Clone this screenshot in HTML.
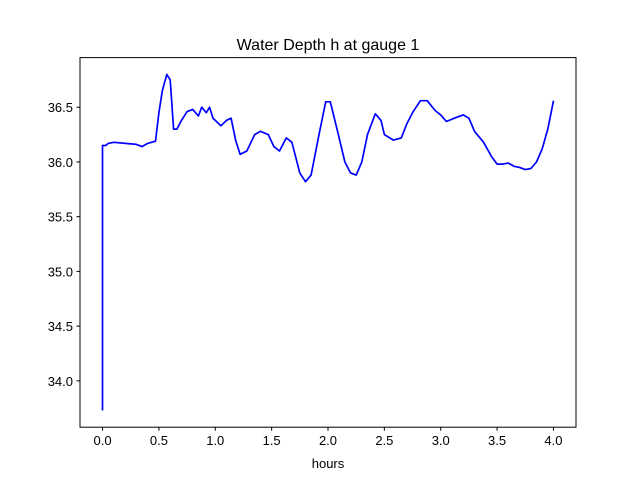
<!DOCTYPE html>
<html><head><meta charset="utf-8"><style>
body{margin:0;background:#fff;font-family:"Liberation Sans","DejaVu Sans",sans-serif;}
</style></head><body>
<svg width="640" height="480" xmlns="http://www.w3.org/2000/svg">
<rect width="640" height="480" fill="#fff"/>
<text x="328" y="50" text-anchor="middle" font-size="16">Water Depth h at gauge 1</text>
<g id="ticks" font-size="13" fill="#000"></g>
<polyline id="line" fill="none" stroke="#0000ff" stroke-width="1.7" stroke-linejoin="round"/>
<rect x="80" y="57.6" width="496" height="369.6" fill="none" stroke="#000" stroke-width="1"/>
<text x="328" y="468" text-anchor="middle" font-size="13">hours</text>
<script>
const hours=[0,0,0.03,0.05,0.1,0.3,0.35,0.4,0.47,0.5,0.53,0.57,0.6,0.63,0.66,0.7,0.75,0.8,0.85,0.88,0.92,0.95,0.98,1.05,1.1,1.14,1.18,1.22,1.28,1.35,1.4,1.47,1.52,1.57,1.63,1.68,1.75,1.8,1.85,1.92,1.98,2.02,2.08,2.15,2.2,2.25,2.3,2.35,2.42,2.47,2.5,2.58,2.65,2.7,2.75,2.82,2.88,2.95,3.0,3.05,3.12,3.2,3.25,3.3,3.38,3.45,3.5,3.55,3.6,3.65,3.7,3.75,3.8,3.85,3.9,3.95,4.0];
const depth=[33.73,36.15,36.15,36.17,36.18,36.16,36.14,36.17,36.19,36.45,36.65,36.8,36.75,36.3,36.3,36.38,36.46,36.48,36.42,36.5,36.45,36.5,36.4,36.33,36.38,36.4,36.2,36.07,36.1,36.25,36.28,36.25,36.14,36.1,36.22,36.18,35.9,35.82,35.88,36.25,36.55,36.55,36.3,36.0,35.9,35.88,36.0,36.25,36.44,36.38,36.25,36.2,36.22,36.35,36.45,36.56,36.56,36.47,36.43,36.37,36.4,36.43,36.4,36.28,36.18,36.05,35.98,35.98,35.99,35.96,35.95,35.93,35.94,36.0,36.12,36.3,36.56];
const xTicks=[0,0.5,1,1.5,2,2.5,3,3.5,4];
const yTicks=[34,34.5,35,35.5,36,36.5];
const L=80,R=576,T=57.6,B=427.2;
const xmin=-0.2,xmax=4.2;
let ymin=Math.min(...depth),ymax=Math.max(...depth);const pad=(ymax-ymin)*0.05;ymin-=pad;ymax+=pad;
const sx=v=>L+(v-xmin)/(xmax-xmin)*(R-L);
const sy=v=>B-(v-ymin)/(ymax-ymin)*(B-T);
const ns="http://www.w3.org/2000/svg";
const line=document.getElementById('line');
line.setAttribute('points',hours.map((h,i)=>sx(h).toFixed(1)+','+sy(depth[i]).toFixed(1)).join(' '));
const g=document.getElementById('ticks');
xTicks.forEach(v=>{const x=sx(v);
const l=document.createElementNS(ns,'line');l.setAttribute('x1',x);l.setAttribute('x2',x);l.setAttribute('y1',B);l.setAttribute('y2',B+3.5);l.setAttribute('stroke','#000');


g.appendChild(l);
const t=document.createElementNS(ns,'text');t.setAttribute('x',x);t.setAttribute('y',B+18);t.setAttribute('text-anchor','middle');t.textContent=v.toFixed(1);


g.appendChild(t);});
yTicks.forEach(v=>{const y=sy(v);
const l=document.createElementNS(ns,'line');l.setAttribute('x1',L-3.5);l.setAttribute('x2',L);l.setAttribute('y1',y);l.setAttribute('y2',y);l.setAttribute('stroke','#000');


g.appendChild(l);
const t=document.createElementNS(ns,'text');t.setAttribute('x',L-7);t.setAttribute('y',y+5);t.setAttribute('text-anchor','end');t.textContent=v.toFixed(1);


g.appendChild(t);});
</script>
</svg>
</body></html>
